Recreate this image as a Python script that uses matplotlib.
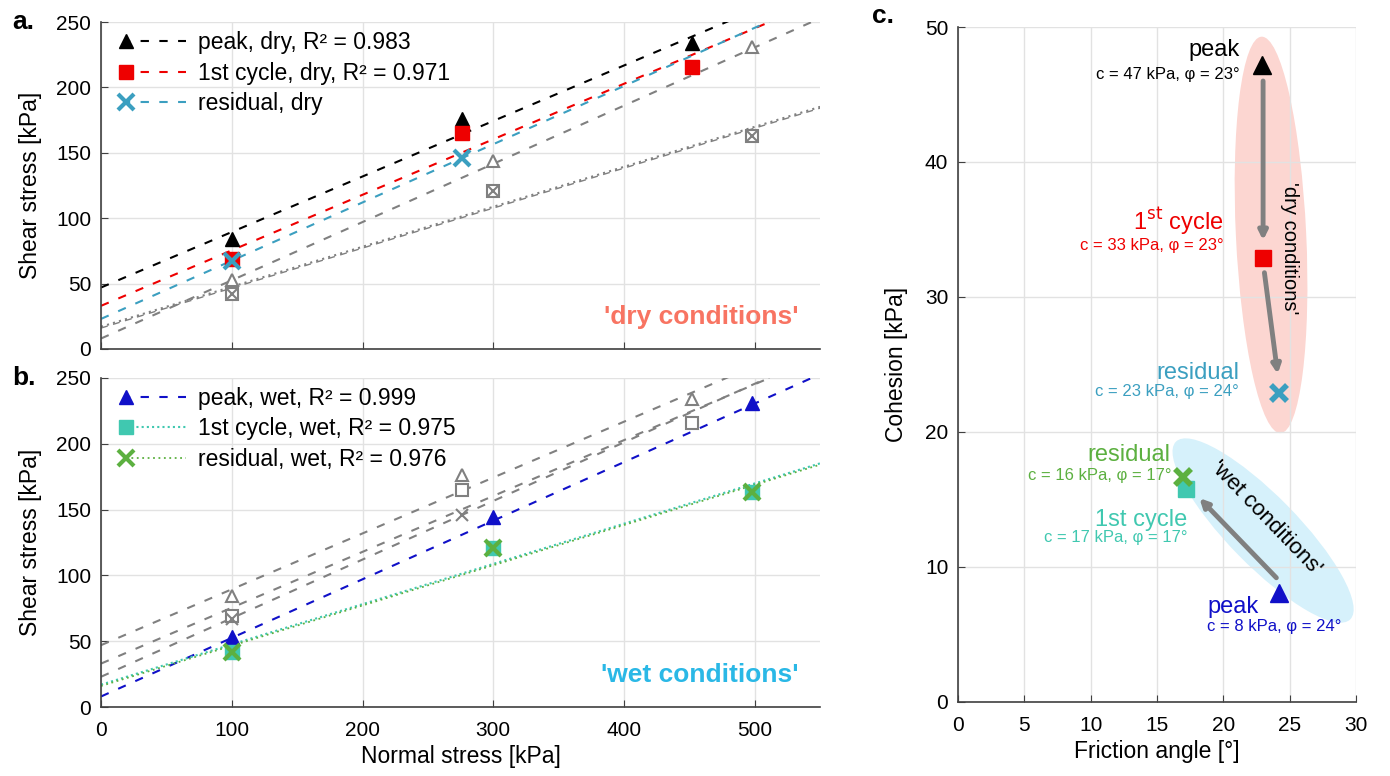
import numpy as np
import matplotlib.pyplot as plt
from matplotlib.patches import Ellipse
from matplotlib.lines import Line2D
from matplotlib.legend_handler import HandlerLine2DCompound

plt.rcParams['font.family'] = ['Liberation Sans', 'DejaVu Sans']

# normal stress of the tests
sig_dry = [100, 276, 452]
sig_dry_res = [100, 276]
sig_wet = [100, 300, 498]

# shear stress, dry
tau_peak_dry = [84, 176, 234]
tau_first_dry = [69, 165, 216]
tau_res_dry = [67, 146]
# shear stress, wet
tau_peak_wet = [53, 144, 231]
tau_first_wet = [42, 121, 163]
tau_res_wet = [42, 121, 163]

# Mohr-Coulomb parameters (cohesion kPa, friction angle deg) used for the fit lines
c_dry = [47, 33, 23]
phi_dry = [23, 23, 24]
c_wet = [8, 17, 16]
phi_wet = [24, 17, 17]

# panel c positions (friction angle, cohesion)
phi_c_dry = [22.9, 23.0, 24.2]
coh_c_dry = [47.2, 32.9, 22.9]
phi_c_wet = [24.2, 17.2, 17.0]
coh_c_wet = [8.1, 15.8, 16.7]

r2_dry = ['0.983', '0.971']
r2_wet = ['0.999', '0.975', '0.976']

GRAY = '#808080'
BLACK = '#000000'
RED = '#ee0000'
TEAL = '#3b9fc0'
BLUE = '#1010c8'
TURQ = '#40c8b0'
GREEN = '#5cb040'


class LeftMarker(HandlerLine2DCompound):
    # marker at the left end of the legend line, like the original
    def get_xdata(self, legend, xdescent, ydescent, width, height, fontsize):
        xdata = np.array([-xdescent, -xdescent + width])
        return xdata, np.array([-xdescent])


fig = plt.figure(figsize=(13.9, 7.76), dpi=100)
ax_a = fig.add_axes([0.0727, 0.5503, 0.5173, 0.4213])
ax_b = fig.add_axes([0.0727, 0.0889, 0.5173, 0.4240])
ax_c = fig.add_axes([0.6892, 0.0954, 0.2863, 0.8698])

xs = np.array([0, 550])


def line(c, phi):
    return c + np.tan(np.radians(phi)) * xs


def style(ax):
    ax.grid(True, color='#e2e2e2', lw=1)
    ax.set_axisbelow(True)
    for s in ['top', 'right']:
        ax.spines[s].set_visible(False)
    for s in ['left', 'bottom']:
        ax.spines[s].set_color('#404040')
        ax.spines[s].set_linewidth(1.2)
    ax.tick_params(direction='in', length=5, labelsize=15, color='#404040')
    ax.tick_params(axis='x', pad=10)
    ax.tick_params(axis='y', pad=7)


def legend(ax, h, lab):
    ax.legend(h, lab, loc='upper left', frameon=False, fontsize=16.5, handlelength=2.6,
              handletextpad=0.55, labelspacing=0.32, borderaxespad=0.0,
              handler_map={Line2D: LeftMarker()}, bbox_to_anchor=(0.022, 1.0))


# ---------- panel a: dry ----------
ax = ax_a
style(ax)
# grey wet lines/markers
ax.plot(xs, line(c_wet[0], phi_wet[0]), color=GRAY, ls=(0, (4, 5)), lw=1.5)
ax.plot(xs, line(c_wet[1], phi_wet[1]), color=GRAY, ls=(0, (1, 2)), lw=1.5)
ax.plot(xs, line(c_wet[2], phi_wet[2]), color=GRAY, ls=(0, (5, 4)), lw=1.0)
ax.plot(sig_wet, tau_peak_wet, ls='none', marker='^', mfc='white', mec=GRAY, ms=9, mew=1.5)
ax.plot(sig_wet, tau_first_wet, ls='none', marker='s', mfc='white', mec=GRAY, ms=9, mew=1.5)
ax.plot(sig_wet, tau_res_wet, ls='none', marker='x', color=GRAY, ms=7, mew=1.5)

ax.plot(xs, line(c_dry[0], phi_dry[0]), color=BLACK, ls=(0, (4, 5)), lw=1.5)
ax.plot(xs, line(c_dry[1], phi_dry[1]), color=RED, ls=(0, (4, 5)), lw=1.5)
ax.plot(xs, line(c_dry[2], phi_dry[2]), color=TEAL, ls=(0, (4, 5)), lw=1.5)
ax.plot(sig_dry, tau_peak_dry, ls='none', marker='^', color=BLACK, ms=10)
ax.plot(sig_dry, tau_first_dry, ls='none', marker='s', color=RED, ms=10)
ax.plot(sig_dry_res, tau_res_dry, ls='none', marker='x', color=TEAL, ms=11, mew=3)

h = [Line2D([], [], color=BLACK, ls=(2, (4, 5)), lw=1.5, marker='^', ms=10),
     Line2D([], [], color=RED, ls=(2, (4, 5)), lw=1.5, marker='s', ms=10),
     Line2D([], [], color=TEAL, ls=(2, (4, 5)), lw=1.5, marker='x', ms=11, mew=3)]
lab = ['peak, dry, R² = ' + r2_dry[0], '1st cycle, dry, R² = ' + r2_dry[1], 'residual, dry']
legend(ax, h, lab)
ax.text(0.97, 0.06, "'dry conditions'", transform=ax.transAxes, ha='right', va='bottom',
        fontsize=19, fontweight='bold', color='#f87462')
ax.set_xlim(0, 550)
ax.set_ylim(0, 250)
ax.set_xticks(range(0, 600, 100))
ax.set_xticklabels([])
ax.set_yticks(range(0, 300, 50))
ax.set_ylabel('Shear stress [kPa]', fontsize=16.5, labelpad=10)

# ---------- panel b: wet ----------
ax = ax_b
style(ax)
for c, p in zip(c_dry, phi_dry):
    ax.plot(xs, line(c, p), color=GRAY, ls=(0, (4, 5)), lw=1.5)
ax.plot(sig_dry, tau_peak_dry, ls='none', marker='^', mfc='white', mec=GRAY, ms=9, mew=1.5)
ax.plot(sig_dry, tau_first_dry, ls='none', marker='s', mfc='white', mec=GRAY, ms=9, mew=1.5)
ax.plot(sig_dry_res, tau_res_dry, ls='none', marker='x', color=GRAY, ms=9, mew=1.5)

ax.plot(xs, line(c_wet[0], phi_wet[0]), color=BLUE, ls=(0, (4, 5)), lw=1.5)
ax.plot(xs, line(c_wet[1], phi_wet[1]), color=TURQ, ls=(0, (1, 1.5)), lw=1.5)
ax.plot(xs, line(c_wet[2], phi_wet[2]), color=GREEN, ls=(0, (1, 2)), lw=1.3)
ax.plot(sig_wet, tau_peak_wet, ls='none', marker='^', color=BLUE, ms=10)
ax.plot(sig_wet, tau_first_wet, ls='none', marker='s', color=TURQ, ms=10)
ax.plot(sig_wet, tau_res_wet, ls='none', marker='x', color=GREEN, ms=11, mew=3)

h = [Line2D([], [], color=BLUE, ls=(2, (4, 5)), lw=1.5, marker='^', ms=10),
     Line2D([], [], color=TURQ, ls=(0, (1, 1.5)), lw=1.5, marker='s', ms=10),
     Line2D([], [], color=GREEN, ls=(0, (1, 2)), lw=1.3, marker='x', ms=11, mew=3)]
lab = ['peak, wet, R² = ' + r2_wet[0], '1st cycle, wet, R² = ' + r2_wet[1],
       'residual, wet, R² = ' + r2_wet[2]]
legend(ax, h, lab)
ax.text(0.97, 0.06, "'wet conditions'", transform=ax.transAxes, ha='right', va='bottom',
        fontsize=19, fontweight='bold', color='#2ab8e6')
ax.set_xlim(0, 550)
ax.set_ylim(0, 250)
ax.set_xticks(range(0, 600, 100))
ax.set_yticks(range(0, 300, 50))
ax.set_ylabel('Shear stress [kPa]', fontsize=16.5, labelpad=10)
ax.set_xlabel('Normal stress [kPa]', fontsize=16.5, labelpad=4)

# ---------- panel c ----------
ax = ax_c
style(ax)
ax.add_patch(Ellipse((23.6, 34.6), 5.3, 29.4, angle=2.8, color='#fcd6d1', zorder=0.3, lw=0))
ax.add_patch(Ellipse((23.0, 12.7), 5.2, 18.6, angle=45, color='#d6f1fb', zorder=0.3, lw=0))

akw = dict(arrowstyle='-|>,head_length=0.5,head_width=0.25', color=GRAY, lw=3.5, shrinkA=0, shrinkB=0)
ax.annotate('', xy=(23.0, 34.2), xytext=(23.0, 46.0), arrowprops=akw, zorder=3)
ax.annotate('', xy=(24.1, 24.3), xytext=(23.1, 31.8), arrowprops=akw, zorder=3)
ax.annotate('', xy=(18.2, 15.1), xytext=(24.0, 9.2), arrowprops=akw, zorder=3)

ax.plot(phi_c_dry[0], coh_c_dry[0], marker='^', color=BLACK, ms=13, ls='none', zorder=4)
ax.plot(phi_c_dry[1], coh_c_dry[1], marker='s', color=RED, ms=12, ls='none', zorder=4)
ax.plot(phi_c_dry[2], coh_c_dry[2], marker='x', color=TEAL, ms=12, mew=4, ls='none', zorder=4)
ax.plot(phi_c_wet[0], coh_c_wet[0], marker='^', color=BLUE, ms=13, ls='none', zorder=4)
ax.plot(phi_c_wet[1], coh_c_wet[1], marker='s', color=TURQ, ms=12, ls='none', zorder=4)
ax.plot(phi_c_wet[2], coh_c_wet[2], marker='x', color=GREEN, ms=12, mew=4, ls='none', zorder=4)

fs = 12
ax.text(21.2, 48.3, 'peak', color=BLACK, fontsize=17, ha='right', va='center')
ax.text(21.2, 46.5, 'c = 47 kPa, φ = 23°', color=BLACK, fontsize=fs, ha='right', va='center')
ax.text(20.0, 35.6, r'1$^{\mathrm{st}}$ cycle', color=RED, fontsize=17, ha='right', va='center')
ax.text(20.0, 33.8, 'c = 33 kPa, φ = 23°', color=RED, fontsize=fs, ha='right', va='center')
ax.text(21.2, 24.4, 'residual', color=TEAL, fontsize=17, ha='right', va='center')
ax.text(21.2, 23.0, 'c = 23 kPa, φ = 24°', color=TEAL, fontsize=fs, ha='right', va='center')
ax.text(16.0, 18.3, 'residual', color=GREEN, fontsize=17, ha='right', va='center')
ax.text(16.1, 16.8, 'c = 16 kPa, φ = 17°', color=GREEN, fontsize=fs, ha='right', va='center')
ax.text(17.3, 13.5, '1st cycle', color=TURQ, fontsize=17, ha='right', va='center')
ax.text(17.3, 12.2, 'c = 17 kPa, φ = 17°', color=TURQ, fontsize=fs, ha='right', va='center')
ax.text(18.8, 7.0, 'peak', color=BLUE, fontsize=17, ha='left', va='center')
ax.text(18.8, 5.6, 'c = 8 kPa, φ = 24°', color=BLUE, fontsize=fs, ha='left', va='center')

ax.text(25.0, 33.6, "'dry conditions'", rotation=-90, fontsize=14.5, ha='center', va='center', zorder=5)
ax.text(23.2, 13.6, "'wet conditions'", rotation=-46, fontsize=16, ha='center', va='center',
        rotation_mode='anchor', zorder=5)

ax.set_xlim(0, 30)
ax.set_ylim(0, 50)
ax.set_xticks(range(0, 35, 5))
ax.set_yticks(range(0, 60, 10))
ax.set_xlabel('Friction angle [°]', fontsize=16.5, labelpad=4)
ax.set_ylabel('Cohesion [kPa]', fontsize=16.5, labelpad=12)

fig.text(12 / 1390, 1 - 22 / 776, 'a.', fontsize=19, fontweight='bold', va='center')
fig.text(12 / 1390, 1 - 378 / 776, 'b.', fontsize=19, fontweight='bold', va='center')
fig.text(872 / 1390, 1 - 16 / 776, 'c.', fontsize=19, fontweight='bold', va='center')

fig.savefig('out.png', dpi=100)
